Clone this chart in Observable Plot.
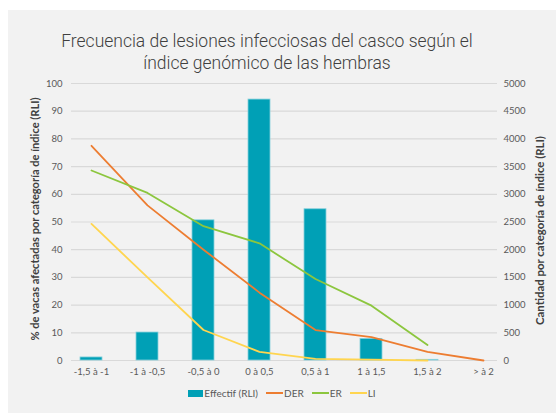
<!DOCTYPE html>
<html>
<head>
<meta charset="utf-8">
<script src="https://cdn.jsdelivr.net/npm/d3@7"></script>
<script src="https://cdn.jsdelivr.net/npm/@observablehq/plot@0.6"></script>
<style>
  html, body { margin: 0; padding: 0; background: #ffffff; }
  #card { position: absolute; left: 8px; top: 10px; width: 548px; height: 403px; background: #f2f2f2; }
  #title { height: 63px; width: 518px; text-align: center; font-family: Roboto, sans-serif; font-weight: 300; font-size: 17.5px; line-height: 22px; color: #404040; padding-top: 20px; box-sizing: border-box; }
  #chart svg { display: block; overflow: visible; }
  #legend { display: flex; justify-content: center; align-items: center; height: 26px; font-family: Lato, sans-serif; font-size: 10px; color: #595959; }
  .item { display: flex; align-items: center; margin: 0 4px; }
  .sw-bar { width: 15px; height: 7px; margin-right: 1px; }
  .sw-line { width: 17px; height: 2px; margin-right: 1px; }
</style>
</head>
<body>
<div id="card">
  <div id="title">Frecuencia de lesiones infecciosas del casco según el<br>índice genómico de las hembras</div>
  <div id="chart"></div>
  <div id="legend"></div>
</div>
<script>
const categories = ["-1,5 à -1", "-1 à -0,5", "-0,5 à 0", "0 à 0,5", "0,5 à 1", "1 à 1,5", "1,5 à 2", "> à 2"];
const effectif = [55, 505, 2530, 4710, 2730, 390, 12, 0];
const der = [77.5, 56, 40, 24.5, 11, 8.4, 3.1, 0];
const er = [68.6, 60.5, 48.5, 42.3, 29.4, 19.8, 5.6, null];
const li = [49.3, 30, 11, 3.1, 0.6, 0.3, 0, null];
const leftTicks = [0, 10, 20, 30, 40, 50, 60, 70, 80, 90, 100];
const countMax = 5000;

const colors = { bar: "#00a0b6", DER: "#ed7d31", ER: "#8cc63e", LI: "#ffd54f" };
const ratio = countMax / 100;

const barData = categories.map((c, i) => ({ cat: c, value: effectif[i] }));
const lineData = [];
[["DER", der], ["ER", er], ["LI", li]].forEach(([name, arr]) => {
  categories.forEach((c, i) => lineData.push({ serie: name, cat: c, value: arr[i] }));
});

const W = 548, H = 307;
const chart = Plot.plot({
  width: W,
  height: H,
  marginTop: 10,
  marginBottom: 20,
  marginLeft: 63,
  marginRight: 59,
  style: { background: "transparent", fontFamily: "Lato, sans-serif", fontSize: "9.5px", color: "#595959", overflow: "visible" },
  x: { domain: categories, range: [52, 506], paddingInner: 0.6, paddingOuter: 0.3 },
  y: { domain: [0, 100] },
  marks: [
    Plot.ruleY(leftTicks, { stroke: "#d9d9d9", strokeWidth: 1.2 }),
    Plot.barY(barData, { x: "cat", y: d => d.value / ratio, fill: colors.bar, stroke: "#86d0db", strokeWidth: 0.8 }),
    Plot.line(lineData, { x: "cat", y: "value", z: "serie", stroke: d => colors[d.serie], strokeWidth: 1.8, strokeLinejoin: "round", defined: d => d.value != null }),
    Plot.axisY({ anchor: "left", ticks: leftTicks, tickSize: 0, tickPadding: 9, label: null }),
    Plot.axisY({ anchor: "right", ticks: leftTicks, tickSize: 0, tickPadding: 6, label: null, tickFormat: d => String(d * ratio) }),
    Plot.axisX({ anchor: "bottom", tickSize: 0, tickPadding: 8, label: null }),
    Plot.text(["% de vacas afectadas por categoría de índice (RLI)"], { frameAnchor: "left", text: d => d, rotate: -90, textAnchor: "middle", lineAnchor: "middle", dx: -36, dy: -3, fontWeight: "bold", fontSize: 11.1, fill: "#404040" }),
    Plot.text(["Cantidad por categoría de índice (RLI)"], { frameAnchor: "right", text: d => d, rotate: -90, textAnchor: "middle", lineAnchor: "middle", dx: 43, dy: 8.5, fontWeight: "bold", fontSize: 11.4, fill: "#404040" })
  ]
});
document.getElementById("chart").appendChild(chart);

const legend = document.getElementById("legend");
const items = [["Effectif (RLI)", "bar", colors.bar], ["DER", "line", colors.DER], ["ER", "line", colors.ER], ["LI", "line", colors.LI]];
items.forEach(([label, kind, col]) => {
  const it = document.createElement("div");
  it.className = "item";
  const sw = document.createElement("span");
  sw.className = kind === "bar" ? "sw-bar" : "sw-line";
  sw.style.background = col;
  const tx = document.createElement("span");
  tx.textContent = label;
  it.appendChild(sw);
  it.appendChild(tx);
  legend.appendChild(it);
});
</script>
</body>
</html>
